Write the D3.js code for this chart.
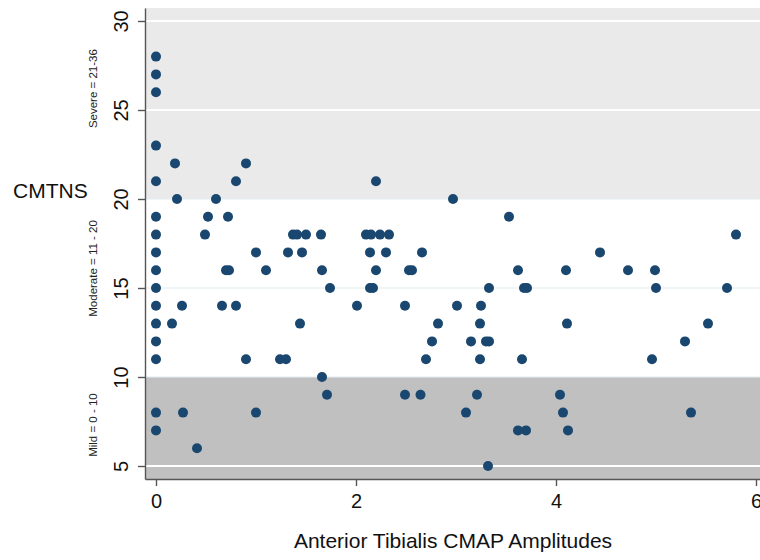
<!DOCTYPE html>
<html>
<head>
<meta charset="utf-8">
<script src="https://cdn.jsdelivr.net/npm/d3@7"></script>
<style>
  body { margin: 0; background: #fff; }
  svg { display: block; font-family: "Liberation Sans", Arial, sans-serif; }
</style>
</head>
<body>
<div class="chart-container"></div>
<script>
// anterior tibialis CMAP amplitude vs CMTNS, one entry per patient
var amplitude = [
  0, 0, 0, 0, 0, 0, 0, 0, 0, 0, 0, 0, 0, 0, 0, 0,
  0.16, 0.19, 0.21, 0.26, 0.27, 0.41, 0.49, 0.52, 0.60, 0.66, 0.70, 0.73, 0.72,
  0.80, 0.80, 0.90, 0.90, 1.00, 1.00, 1.10, 1.24, 1.30, 1.32, 1.37, 1.41, 1.44,
  1.46, 1.50, 1.65, 1.66, 1.66, 1.71, 1.74,
  2.01, 2.10, 2.15, 2.14, 2.14, 2.17, 2.20, 2.20, 2.24, 2.30, 2.33, 2.49, 2.49,
  2.53, 2.56, 2.645, 2.66, 2.70, 2.76, 2.82, 2.97,
  3.01, 3.10, 3.15, 3.21, 3.24, 3.24, 3.25, 3.30, 3.33, 3.32, 3.33, 3.53, 3.62,
  3.62, 3.70, 3.66, 3.68, 3.71,
  4.04, 4.07, 4.10, 4.11, 4.12, 4.44, 4.72, 4.96, 4.99, 5.00, 5.29, 5.35, 5.52,
  5.71, 5.80
];
var cmtns = [
  28, 27, 26, 23, 21, 19, 18, 17, 16, 15, 14, 13, 12, 11, 8, 7,
  13, 22, 20, 14, 8, 6, 18, 19, 20, 14, 16, 16, 19,
  21, 14, 22, 11, 17, 8, 16, 11, 11, 17, 18, 18, 13,
  17, 18, 18, 16, 10, 9, 15,
  14, 18, 18, 17, 15, 15, 21, 16, 18, 17, 18, 14, 9,
  16, 16, 9, 17, 11, 12, 13, 20,
  14, 8, 12, 9, 13, 11, 14, 12, 12, 5, 15, 19, 16,
  7, 7, 11, 15, 15,
  9, 8, 16, 13, 7, 17, 16, 11, 16, 15, 12, 8, 13,
  15, 18
];

var xTicks = [0, 2, 4, 6];
var yTicks = [5, 10, 15, 20, 25, 30];

// severity bands (CMTNS ranges)
var bandLabels = ["Mild = 0 - 10", "Moderate = 11 - 20", "Severe = 21-36"];
var bandFrom = [4.27, 10, 20];
var bandTo = [10, 20, 30.73];
var bandLabelAt = [7.3, 16.1, 26.2];
var bandColors = ["#c0c0c0", "#ffffff", "#eaeaea"];

var width = 760, height = 560;

var x = d3.scaleLinear()
    .domain([-0.11, 6.04])
    .range([145, 760]);

var y = d3.scaleLinear()
    .domain([4.27, 30.73])
    .range([479, 8]);

var svg = d3.select(".chart-container").append("svg")
    .attr("width", width)
    .attr("height", height);

var points = amplitude.map(function (d, i) { return { amp: d, score: cmtns[i] }; });

// bands
svg.selectAll("rect.band")
    .data(bandLabels)
  .enter().append("rect")
    .attr("class", "band")
    .attr("x", x.range()[0])
    .attr("width", x.range()[1] - x.range()[0])
    .attr("y", function (d, i) { return y(bandTo[i]); })
    .attr("height", function (d, i) { return y(bandFrom[i]) - y(bandTo[i]); })
    .attr("fill", function (d, i) { return bandColors[i]; });

// grid lines: white on the grey bands, pale blue on white
svg.selectAll("line.grid")
    .data(yTicks)
  .enter().append("line")
    .attr("class", "grid")
    .attr("x1", x.range()[0] + 1)
    .attr("x2", x.range()[1])
    .attr("y1", function (d) { return y(d); })
    .attr("y2", function (d) { return y(d); })
    .attr("stroke", function (d) { return (d > 20 || d < 10) ? "#ffffff" : "#e2eef0"; })
    .attr("stroke-width", function (d) { return (d > 20 || d < 10) ? 2 : 1.2; });

// band labels, rotated
svg.selectAll("text.band-label")
    .data(bandLabels)
  .enter().append("text")
    .attr("class", "band-label")
    .attr("transform", function (d, i) { return "translate(97," + y(bandLabelAt[i]) + ") rotate(-90)"; })
    .attr("text-anchor", "middle")
    .attr("font-size", "11.5px")
    .attr("fill", "#222")
    .text(function (d) { return d; });

// axes
var yAxis = svg.append("g")
    .attr("class", "y-axis")
    .attr("transform", "translate(" + x.range()[0] + ",0)")
    .call(d3.axisLeft(y).tickValues(yTicks).tickFormat(d3.format("d")).tickSize(7).tickSizeOuter(0));

yAxis.selectAll("text")
    .attr("x", null)
    .attr("dy", null)
    .attr("transform", "translate(-17,0) rotate(-90)")
    .attr("text-anchor", "middle")
    .attr("font-size", "20px")
    .attr("font-family", null)
    .attr("fill", "#111");

var xAxis = svg.append("g")
    .attr("class", "x-axis")
    .attr("transform", "translate(0," + y.range()[0] + ")")
    .call(d3.axisBottom(x).tickValues(xTicks).tickFormat(d3.format("d")).tickSize(7).tickSizeOuter(0));

xAxis.selectAll("text")
    .attr("y", 15)
    .attr("dy", "0.71em")
    .attr("font-size", "20px")
    .attr("font-family", null)
    .attr("fill", "#111");

svg.selectAll(".domain, .tick line")
    .attr("stroke", "#555")
    .attr("stroke-width", 1.4);

// titles
svg.append("text")
    .attr("x", 13)
    .attr("y", 198)
    .attr("font-size", "21px")
    .attr("fill", "#111")
    .text("CMTNS");

svg.append("text")
    .attr("x", 453)
    .attr("y", 548)
    .attr("text-anchor", "middle")
    .attr("font-size", "21px")
    .attr("fill", "#111")
    .text("Anterior Tibialis CMAP Amplitudes");

// points
svg.selectAll("circle")
    .data(points)
  .enter().append("circle")
    .attr("cx", function (d) { return x(d.amp); })
    .attr("cy", function (d) { return y(d.score); })
    .attr("r", 5)
    .attr("fill", "#1a476f");
</script>
</body>
</html>
